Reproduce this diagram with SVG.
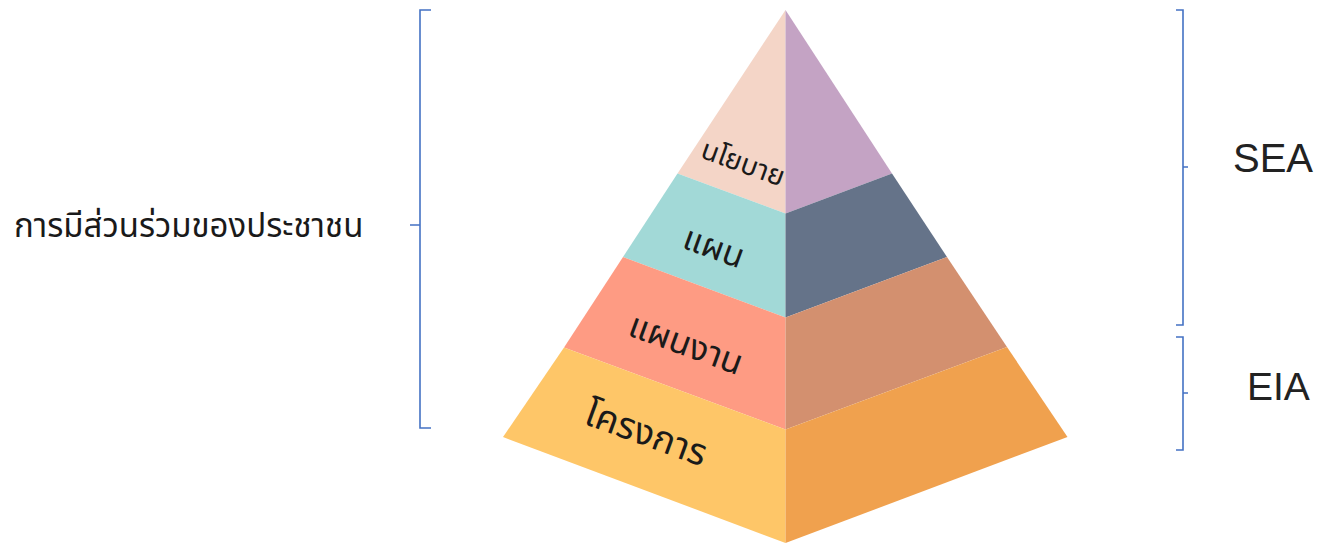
<svg xmlns="http://www.w3.org/2000/svg" width="1319" height="543" viewBox="0 0 1319 543">
<style>
.br{fill:none;stroke:#4472C4;stroke-width:1.6}
.th{font-family:"Noto Sans Thai","Noto Sans","DejaVu Sans",sans-serif;fill:#1a1a1a}
.lbl{font-family:"Liberation Sans",Arial,sans-serif;fill:#222}
</style>
<rect width="1319" height="543" fill="#ffffff"/>
<g id="layer-policy">
<polygon points="785.5,10 677.5,173.5 785.5,213.5" fill="#F4D5C7"/>
<polygon points="785.5,10 892,173.5 785.5,213.5" fill="#C4A3C4"/>
<text class="th" font-size="28" text-anchor="middle" transform="translate(740,172) rotate(20)">นโยบาย</text>
</g>
<g id="layer-plan">
<polygon points="677.5,173.5 785.5,213.5 785.5,317.5 623,257" fill="#A2D9D7"/>
<polygon points="892,173.5 785.5,213.5 785.5,317.5 947,257" fill="#657389"/>
<text class="th" font-size="34" text-anchor="middle" transform="translate(710,258) rotate(20)">แผน</text>
</g>
<g id="layer-program">
<polygon points="623,257 785.5,317.5 785.5,429.5 564,347.5" fill="#FE9B83"/>
<polygon points="947,257 785.5,317.5 785.5,429.5 1007,347" fill="#D3906F"/>
<text class="th" font-size="35" text-anchor="middle" transform="translate(682,355) rotate(20)">แผนงาน</text>
</g>
<g id="layer-project">
<polygon points="564,347.5 785.5,429.5 785.5,543 503,437" fill="#FEC668"/>
<polygon points="1007,347 785.5,429.5 785.5,543 1067.5,437" fill="#F0A14E"/>
<text class="th" font-size="37" text-anchor="middle" transform="translate(642,445) rotate(20)">โครงการ</text>
</g>
<g id="connectors">
<path class="br" d="M431,10 H420 V428 H431 M420,225 H410"/>
<path class="br" d="M1176,10 H1183 V325 H1176 M1183,167 H1188"/>
<path class="br" d="M1176,337 H1183 V450 H1176 M1183,393 H1188"/>
</g>
<g id="public-participation">
<text class="th" font-size="33" x="14" y="237" fill="#333">การมีส่วนร่วมของประชาชน</text>
</g>
<g id="sea">
<text class="lbl" font-size="40" x="1233" y="172">SEA</text>
</g>
<g id="eia">
<text class="lbl" font-size="39" x="1247" y="400">EIA</text>
</g>
</svg>
